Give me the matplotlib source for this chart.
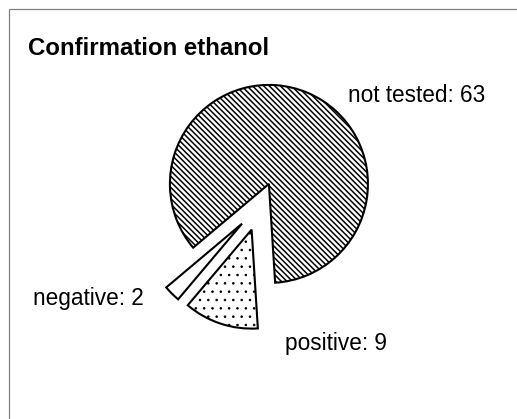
import matplotlib
matplotlib.use('Agg')
import matplotlib.pyplot as plt
from matplotlib.patches import Rectangle

categories = ['not tested', 'negative', 'positive']
values = [63, 2, 9]
hatches = ['\\' * 6, '', '..']
title = 'Confirmation ethanol'
label_texts = [f'{c}: {v}' for c, v in zip(categories, values)]

W, H = 517, 419
plt.rcParams['font.family'] = ['Liberation Sans', 'DejaVu Sans']
plt.rcParams['hatch.linewidth'] = 1.1

fig = plt.figure(figsize=(W / 100, H / 100), dpi=100)
fig.patch.set_facecolor('white')
ax = fig.add_axes([0, 0, 1, 1])

R = 99.0             # pie radius in px
cx, cy = 259.3, 206.4  # pie centre in px (from top-left)
wedges, _ = ax.pie(values, radius=1, center=(0, 0), startangle=273.6,
                   counterclock=True, explode=[0.247] * len(values),
                   colors=['white'] * len(values),
                   wedgeprops=dict(edgecolor='black', linewidth=1.5))
for w, h in zip(wedges, hatches):
    w.set_hatch(h)
if hasattr(wedges[2], 'set_hatch_linewidth'):
    wedges[2].set_hatch_linewidth(0.6)
ax.set_xlim(-cx / R, (W - cx) / R)
ax.set_ylim(-(H - cy) / R, cy / R)
ax.set_aspect('auto')
ax.axis('off')


def px(x, y):
    return x / W, 1 - y / H

# labels (left x / right x, baseline y in px)
label_pos = [(348, 101.7, 'left'), (143.5, 305, 'right'), (285, 350, 'left')]
for txt, (x, y, ha) in zip(label_texts, label_pos):
    fig.text(*px(x, y), txt, ha=ha, va='baseline', fontsize=16.3, color='black')

fig.text(*px(28, 55), title, ha='left', va='baseline', fontsize=17.3,
         fontweight='bold', color='black')

fig.add_artist(Rectangle(px(8.5, 500), 2, (500 - 9.5) / H, transform=fig.transFigure,
                         fill=False, edgecolor='#808080', linewidth=0.9))

fig.savefig('out.png', dpi=100, facecolor='white')
